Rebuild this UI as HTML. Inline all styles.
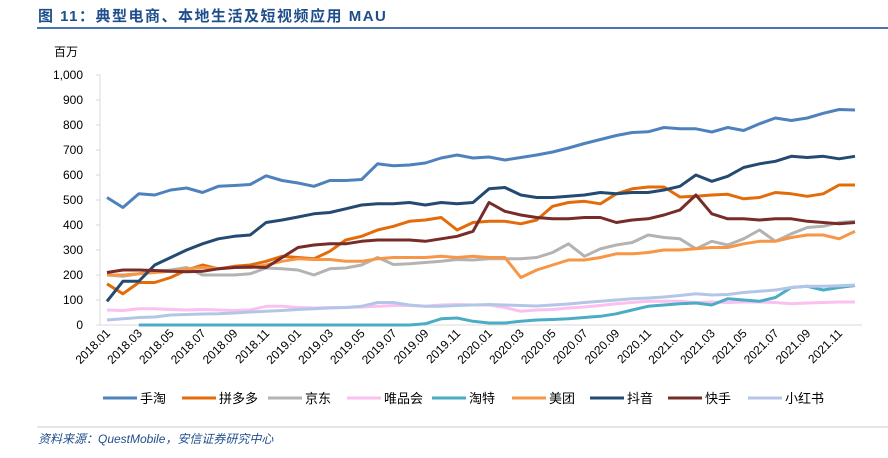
<!DOCTYPE html>
<html><head><meta charset="utf-8">
<style>
body{margin:0;background:#fff;width:888px;height:453px;overflow:hidden;font-family:"Liberation Sans","Noto Sans CJK SC",sans-serif;}
</style></head>
<body>
<svg id="chart" width="888" height="453" xmlns="http://www.w3.org/2000/svg">
<text x="38" y="21" font-size="15" font-weight="bold" fill="#1f4e8c" font-family="Liberation Sans,Noto Sans CJK SC,sans-serif" letter-spacing="1.5">图 11：典型电商、本地生活及短视频应用 MAU</text>
<line x1="37" y1="28" x2="888" y2="28" stroke="#4a73b0" stroke-width="2"/>
<text x="54" y="56" font-size="12" fill="#000">百万</text>
<g id="yaxis"></g>
<g id="xaxis"></g>
<g id="series"></g>
<g id="legend"></g>
<line x1="37" y1="427" x2="888" y2="427" stroke="#ccc" stroke-width="1"/>
<text x="38" y="443" font-size="12" font-style="italic" fill="#1f4e8c">资料来源：QuestMobile，安信证券研究中心</text>
</svg>
<script>
const categories=[];for(let y=2018;y<=2021;y++)for(let m=1;m<=12;m++)categories.push(y+"."+String(m).padStart(2,"0"));
const yTicks=[0,100,200,300,400,500,600,700,800,900,1000];
const seriesNames=["手淘","拼多多","京东","唯品会","淘特","美团","抖音","快手","小红书"];
const seriesColors=["#4f81bd","#e36c09","#b3b3b3","#f9c0f0","#4bacc6","#f79646","#244a72","#772c2a","#b4c6e7"];
const shoutao=[510,470,525,520,540,548,530,555,558,562,597,578,568,555,578,578,582,645,637,640,648,668,680,668,672,660,670,680,692,708,726,742,758,770,773,790,785,785,772,790,778,805,828,818,828,847,862,860];
const pdd=[165,125,170,170,190,220,240,225,235,240,255,275,270,265,295,340,355,380,395,415,420,430,380,410,415,415,405,420,475,490,495,485,525,545,552,552,512,515,520,523,505,510,530,525,515,525,560,560];
const jd=[200,195,205,215,220,230,200,200,200,205,228,225,220,200,225,228,240,270,242,245,250,255,262,260,265,265,265,270,290,325,275,305,320,330,360,350,345,305,335,320,345,380,335,365,390,395,410,415];
const vip=[60,58,65,65,62,60,62,60,58,60,75,75,70,68,70,70,72,75,78,78,75,80,82,80,80,70,55,60,62,68,72,78,85,90,95,95,95,90,92,90,92,92,90,85,88,90,92,92];
const taote=[null,null,0,0,0,0,0,0,0,0,0,0,0,0,0,0,0,0,0,0,5,25,28,15,8,8,15,20,22,25,30,35,45,60,75,80,85,88,80,105,100,95,110,150,155,140,150,158];
const meituan=[200,200,205,210,215,225,230,225,230,230,240,255,265,262,262,255,255,265,270,270,270,275,270,275,270,270,190,220,240,260,260,270,285,285,290,300,300,305,310,310,325,335,335,350,360,360,345,375];
const douyin=[95,175,175,240,270,300,325,345,355,360,410,420,432,445,450,465,480,485,485,490,480,490,485,490,545,550,520,510,510,515,520,530,525,530,530,540,555,600,575,595,630,645,655,675,670,675,665,675];
const kuaishou=[210,220,220,218,215,213,215,225,230,232,230,270,310,320,325,325,335,340,340,340,335,345,355,375,490,455,440,430,425,425,430,430,410,420,425,440,460,520,445,425,425,420,425,425,415,410,405,410];
const xhs=[20,25,30,32,40,42,44,45,48,52,55,58,62,65,68,70,75,90,90,80,75,75,78,80,82,80,78,76,80,84,90,95,100,105,108,112,118,125,120,122,130,135,140,150,155,155,157,160];
const allSeries=[shoutao,pdd,jd,vip,taote,meituan,douyin,kuaishou,xhs];
const NS="http://www.w3.org/2000/svg";
const x0=107,x1=855,yb=325,yt=75,ymax=1000;
function xs(i){return x0+(x1-x0)*i/(categories.length-1);}
function ys(v){return yb-(yb-yt)*v/ymax;}
function mk(t,a,p){const e=document.createElementNS(NS,t);for(const k in a)e.setAttribute(k,a[k]);p.appendChild(e);return e;}
const ya=document.getElementById("yaxis");
const yl=mk("line",{x1:100,y1:ys(0),x2:100,y2:ys(ymax),stroke:"#d9d9d9"},ya);


yTicks.forEach(v=>{
  const t=mk("text",{x:83,y:ys(v)+4,"font-size":12,"text-anchor":"end",fill:"#000"},ya);
  t.textContent=v.toLocaleString("en-US");
  
  
  const tk=mk("line",{x1:96,y1:ys(v),x2:100,y2:ys(v),stroke:"#d9d9d9"},ya);
  
  
});
const xa=document.getElementById("xaxis");
const xl=mk("line",{x1:100,y1:yb,x2:862,y2:yb,stroke:"#d9d9d9"},xa);


categories.forEach((c,i)=>{
  if(i%2)return;
  const x=xs(i)+4,y=yb+9;
  const t=mk("text",{x:x,y:y,"font-size":12,"text-anchor":"end",fill:"#000",transform:`rotate(-45 ${x} ${y})`},xa);
  t.textContent=c;
  
  
});
const sg=document.getElementById("series");
allSeries.forEach((d,s)=>{
  let path="",pen=false;
  d.forEach((v,i)=>{if(v===null){pen=false;return;}path+=(pen?"L":"M")+xs(i).toFixed(1)+","+ys(v).toFixed(1);pen=true;});
  const p=mk("path",{d:path,fill:"none",stroke:seriesColors[s],"stroke-width":3,"stroke-linejoin":"round"},sg);
  
  
});
const lg=document.getElementById("legend");
const lx=[103,182,268,347,432,512,590,668,748];
seriesNames.forEach((n,s)=>{
  const g=mk("g",{},lg);
  
  
  mk("line",{x1:lx[s],y1:398,x2:lx[s]+34,y2:398,stroke:seriesColors[s],"stroke-width":3},g);
  const t=mk("text",{x:lx[s]+37,y:403,"font-size":13,fill:"#000"},g);
  t.textContent=n;
});
</script>
</body></html>
